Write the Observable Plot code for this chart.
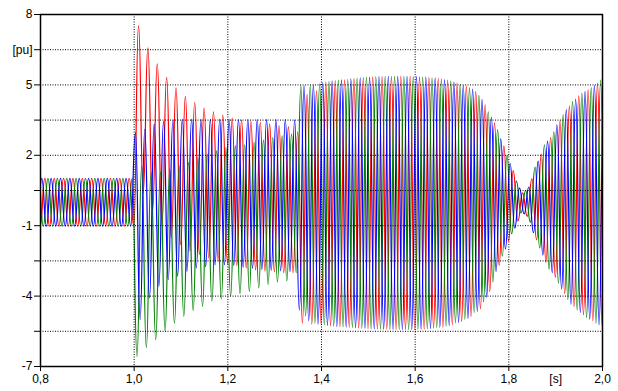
<!DOCTYPE html>
<html>
<head>
<meta charset="utf-8">
<script src="https://cdn.jsdelivr.net/npm/d3@7"></script>
<script src="https://cdn.jsdelivr.net/npm/@observablehq/plot@0.6"></script>
<style>
  html, body { margin: 0; padding: 0; background: #fff; }
  #chart { width: 618px; height: 391px; }
</style>
</head>
<body>
<div id="chart"></div>
<script>
// Extremum values (alternating peaks/troughs), one per half cycle.
const halfPeriod = 0.01;
const phaseStart = { red: 0.7993, green: 0.796, blue: 0.7927 };

const redExtrema = [
  -1.02,1.02,-1.02,1.02,-1.02,1.02,-1.02,1.02,-1.02,1.02,-1.02,1.02,-1.02,1.02,-1.02,1.02,-1.02,1.02,-1.02,1.02,-1.02,
  7.53,0.4,6.58,-0.35,5.9,-0.95,5.32,-1.5,4.87,-1.8,4.51,-2.08,4.25,-2.23,4.01,-2.37,3.85,-2.5,3.71,-2.62,3.58,-2.7,3.5,-2.8,3.45,-2.88,3.4,-2.93,3.33,-2.97,3.27,-3.0,3.22,-3.0,3.0,
  -5.15,4.6,-5.2,4.75,-5.22,5.12,-5.26,5.18,-5.3,5.22,-5.33,5.27,-5.36,5.31,-5.38,5.34,-5.4,5.35,-5.41,5.36,-5.42,5.36,-5.42,5.36,-5.42,5.34,-5.4,5.32,-5.37,5.28,-5.32,5.2,-5.22,5.08,-5.08,4.95,-4.88,4.72,-4.55,4.15,-3.8,3.38,-2.7,2.4,-1.65,1.35,-0.8,0.4,-0.6,1.0,-1.6,2.05,-2.55,2.75,-3.2,3.47,-3.9,4.1,-4.45,4.53,-4.8,4.8,-5.05,5.08,-5.3,5.35
];
const greenExtrema = [
  1.02,-1.02,1.02,-1.02,1.02,-1.02,1.02,-1.02,1.02,-1.02,1.02,-1.02,1.02,-1.02,1.02,-1.02,1.02,-1.02,1.02,-1.02,1.02,
  -6.57,1.55,-6.19,1.26,-5.86,1.29,-5.48,1.4,-5.15,1.55,-4.86,1.69,-4.62,1.9,-4.44,2.05,-4.22,2.19,-4.12,2.33,-4.0,2.4,-3.9,2.45,-3.8,2.55,-3.65,2.65,-3.5,2.75,-3.4,2.83,-3.35,2.9,-3.0,
  4.97,-4.85,4.97,-5.15,5.05,-5.22,5.15,-5.28,5.2,-5.31,5.24,-5.34,5.29,-5.37,5.33,-5.39,5.35,-5.41,5.36,-5.42,5.36,-5.42,5.36,-5.42,5.35,-5.41,5.33,-5.39,5.3,-5.34,5.25,-5.28,5.16,-5.14,5.02,-4.98,4.88,-4.7,4.55,-4.25,3.85,-3.4,3.1,-2.3,2.0,-1.35,0.9,-0.45,0.5,-0.85,1.5,-1.95,2.45,-2.85,3.0,-3.45,3.72,-4.15,4.3,-4.6,4.65,-4.92,4.88,-5.15,5.2,-5.35
];
const blueExtrema = [
  -1.02,1.02,-1.02,1.02,-1.02,1.02,-1.02,1.02,-1.02,1.02,-1.02,1.02,-1.02,1.02,-1.02,1.02,-1.02,1.02,-1.02,1.02,-1.02,
  2.97,-5.0,3.11,-4.08,3.33,-3.58,3.44,-3.3,3.5,-3.15,3.53,-2.94,3.53,-2.8,3.53,-2.75,3.53,-2.66,3.53,-2.66,3.53,-2.7,3.52,-2.78,3.52,-2.82,3.52,-2.86,3.52,-2.9,3.52,-2.92,3.52,-2.95,3.5,
  -4.6,4.97,-5.05,5.0,-5.2,5.1,-5.25,5.17,-5.29,5.21,-5.32,5.26,-5.35,5.3,-5.37,5.33,-5.4,5.35,-5.41,5.36,-5.42,5.36,-5.42,5.36,-5.42,5.35,-5.41,5.33,-5.38,5.3,-5.33,5.23,-5.25,5.12,-5.12,4.98,-4.95,4.82,-4.65,4.38,-4.05,3.62,-2.95,2.7,-2.0,1.65,-1.1,0.6,-0.5,0.65,-1.3,1.75,-2.25,2.6,-3.0,3.3,-3.7,3.95,-4.35,4.4,-4.7,4.72,-4.98,4.98,-5.22,5.28
];

const phaseColors = { red: "#ff0000", green: "#008000", blue: "#0000ff" };

const xTicks = [0.8, 1.0, 1.2, 1.4, 1.6, 1.8, 2.0];
const xGridLines = [1.0, 1.2, 1.4, 1.6, 1.8];
const yTicks = [-7, -5.5, -4, -2.5, -1, 0.5, 2, 3.5, 5, 6.5, 8];
const yTickLabels = ["-7", "", "-4", "", "-1", "", "2", "", "5", "[pu]", "8"];
const yGridLines = [-5.5, -4, -2.5, -1, 0.5, 2, 3.5, 5, 6.5];
const xUnit = "[s]";
const xUnitAt = 1.9;

function series(values, t0) {
  return values.map((v, k) => ({ t: t0 + k * halfPeriod, v }));
}
const redData = series(redExtrema, phaseStart.red);
const greenData = series(greenExtrema, phaseStart.green);
const blueData = series(blueExtrema, phaseStart.blue);

const yLabelMap = new Map(yTicks.map((d, i) => [d, yTickLabels[i]]));
const gridStyle = { stroke: "#000", strokeOpacity: 1, strokeWidth: 1, strokeDasharray: "1,1.5" };

const chart = Plot.plot({
  width: 618,
  height: 391,
  marginLeft: 40,
  marginRight: 16,
  marginTop: 14,
  marginBottom: 25,
  x: { domain: [0.8, 2.0] },
  y: { domain: [-7, 8] },
  style: { fontFamily: "'Liberation Sans', Arial, sans-serif", fontSize: "12px", color: "#000", background: "#fff" },
  marks: [
    Plot.line(redData, { x: "t", y: "v", stroke: phaseColors.red, strokeWidth: 1.2, curve: "bump-x", clip: true }),
    Plot.line(greenData, { x: "t", y: "v", stroke: phaseColors.green, strokeWidth: 1.2, curve: "bump-x", clip: true }),
    Plot.line(blueData, { x: "t", y: "v", stroke: phaseColors.blue, strokeWidth: 1.2, curve: "bump-x", clip: true }),
    Plot.gridY(yGridLines, gridStyle),
    Plot.gridX(xGridLines, gridStyle),
    Plot.axisY(yTicks, { tickSize: 6, tickPadding: 2, label: null, stroke: "#000", tickFormat: (d) => yLabelMap.get(d) }),
    Plot.axisX(xTicks, { tickSize: 5, tickPadding: 3, label: null, stroke: "#000", tickFormat: (d) => d.toFixed(1).replace(".", ",") }),
    Plot.axisX([xUnitAt], { tickSize: 0, tickPadding: 8, label: null, tickFormat: () => xUnit }),
    Plot.frame({ stroke: "#000", strokeWidth: 1.5 })
  ]
});
document.getElementById("chart").appendChild(chart);
</script>
</body>
</html>
